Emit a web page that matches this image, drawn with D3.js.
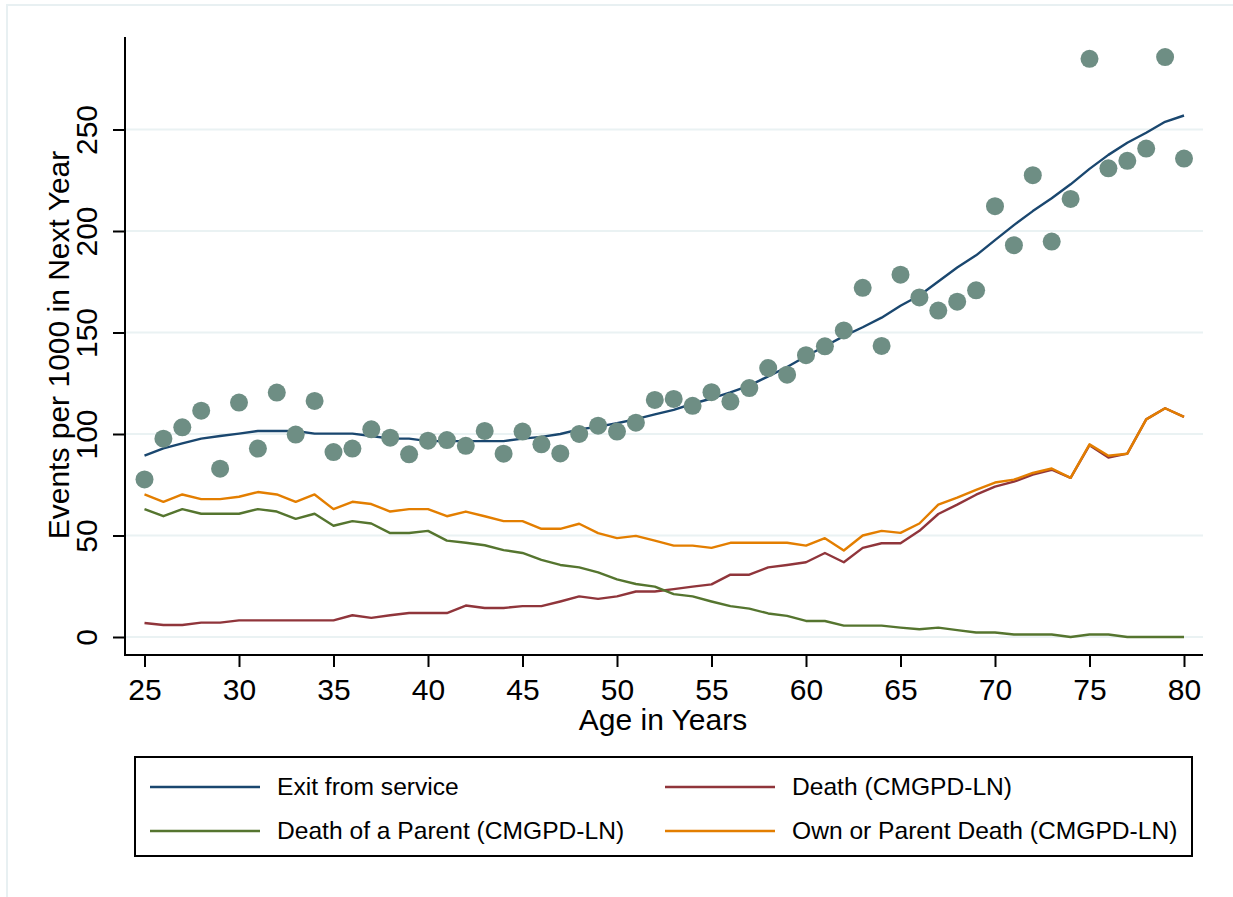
<!DOCTYPE html>
<html>
<head>
<meta charset="utf-8">
<script src="https://cdn.jsdelivr.net/npm/d3@7"></script>
<style>
  body { margin: 0; background: #fff; }
  svg { display: block; font-family: "Liberation Sans", Arial, sans-serif; }
</style>
</head>
<body>
<div id="main"></div>
<script>
// ages on the x axis
var ages = [25,26,27,28,29,30,31,32,33,34,35,36,37,38,39,40,41,42,43,44,45,46,47,48,49,50,51,52,
            53,54,55,56,57,58,59,60,61,62,63,64,65,66,67,68,69,70,71,72,73,74,75,76,77,78,79,80];

// observed exit rate (dots)
var exitObserved = [77.6,97.7,103.3,111.5,82.9,115.5,92.8,120.4,99.7,116.3,91.1,92.8,102.3,98.2,90,96.7,
                    97,94.2,101.5,90.3,101.2,94.9,90.4,100,104.1,101.2,105.6,116.8,117.3,113.9,120.6,116,
                    122.6,132.5,129.2,138.8,143.2,151,172,143.4,178.5,167.3,160.8,165.2,170.8,212.2,193,
                    227.5,194.8,215.8,284.8,230.9,234.6,240.6,285.7,235.7];

// smoothed exit from service
var exitSmooth = [89.3,92.9,95.4,97.7,99,100.2,101.5,101.5,101.5,100.2,100.2,100.2,99,97.7,97.7,96.5,
                  96.5,96.5,96.5,96.5,97.7,98.6,100,102.3,103.6,105.3,107.3,109.7,111.9,114.9,117.5,120.5,
                  123.8,128.4,133,138.3,143.2,148.2,152.6,157.3,163.2,168.2,175.1,182,188,195.5,202.9,
                  209.8,216.1,223,230.6,237.5,243.5,248.4,253.8,256.9];

var deathOwn = [6.9,5.9,5.9,7.1,7.1,8.2,8.2,8.2,8.2,8.2,8.2,10.7,9.4,10.7,11.8,11.8,11.8,15.5,14.3,14.3,
                15.2,15.2,17.5,20,18.8,20,22.4,22.4,23.6,24.8,25.9,30.7,30.7,34.3,35.5,36.8,41.4,36.8,
                43.9,46.2,46.2,52.3,60.6,65.2,70.1,74.1,76.5,80,82.4,78.4,94.5,88.4,90.3,107.2,112.7,108.4];

var deathParent = [63,59.5,63,60.7,60.7,60.7,63,61.8,58.2,60.7,54.8,57.1,55.9,51.2,51.2,52.3,47.5,46.4,
                   45.2,42.8,41.4,38,35.5,34.3,31.8,28.4,26.1,24.8,21.1,20,17.5,15.2,14,11.6,10.4,7.9,7.9,
                   5.6,5.6,5.6,4.6,3.8,4.6,3.4,2.2,2.2,1.2,1.2,1.2,0,1.2,1.2,0,0,0,0];

var deathOwnOrParent = [70.2,66.6,70.2,67.9,67.9,69.1,71.4,70.2,66.6,70.2,63,66.6,65.5,61.8,63,63,59.5,
                        61.8,59.5,57.1,57.1,53.3,53.3,55.8,51.2,48.7,49.8,47.5,45,45,43.9,46.4,46.4,46.4,
                        46.4,45,48.7,42.6,50,52.3,51.3,55.9,65.2,68.7,72.5,76.1,77.5,80.8,83,78.4,94.9,
                        89.3,90.3,107.2,112.7,108.4];

var xTicks = [25,30,35,40,45,50,55,60,65,70,75,80];
var yTicks = [0,50,100,150,200,250];

var seriesNames = ["Exit from service","Death (CMGPD-LN)","Death of a Parent (CMGPD-LN)","Own or Parent Death (CMGPD-LN)"];
var seriesColors = ["#1a476f","#90353b","#55752f","#e37e00"];

var W = 1233, H = 897;
var svg = d3.select("#main").append("svg").attr("width", W).attr("height", H);

// outer graph region border
svg.append("rect").attr("x", 7).attr("y", 5).attr("width", 1260).attr("height", 920)
    .attr("fill", "none").attr("stroke", "#e8f0f2").attr("stroke-width", 2);

var x = d3.scaleLinear().domain([25, 80]).range([144.5, 1184]);
var y = d3.scaleLinear().domain([0, 250]).range([637, 129.5]);
var plotLeft = 125, plotRight = 1203, plotTop = 37, plotBottom = 655;

// grid
svg.append("g").selectAll("line").data(yTicks).enter().append("line")
    .attr("x1", plotLeft).attr("x2", plotRight)
    .attr("y1", function(d){ return y(d); }).attr("y2", function(d){ return y(d); })
    .attr("stroke", "#eaf2f3").attr("stroke-width", 2);

// data lines
var lineGen = function(vals){
    return d3.line()
        .x(function(d,i){ return x(ages[i]); })
        .y(function(d){ return y(d); })(vals);
};
var lineData = [exitSmooth, deathOwn, deathParent, deathOwnOrParent];
var lines = svg.append("g");
lineData.forEach(function(vals, k){
    lines.append("path").attr("d", lineGen(vals))
        .attr("fill", "none").attr("stroke", seriesColors[k])
        .attr("stroke-width", 2.4).attr("stroke-linejoin", "round");
});

// observed dots
svg.append("g").selectAll("circle").data(exitObserved).enter().append("circle")
    .attr("cx", function(d,i){ return x(ages[i]); })
    .attr("cy", function(d){ return y(d); })
    .attr("r", 9).attr("fill", "#6e8e84");

// axes
var yAxis = svg.append("g").attr("transform", "translate(" + plotLeft + ",0)")
    .call(d3.axisLeft(y).tickValues(yTicks).tickSize(12).tickPadding(16).tickSizeOuter(0));
yAxis.select(".domain").remove();
yAxis.append("line").attr("x1", 0).attr("x2", 0).attr("y1", plotTop).attr("y2", plotBottom + 1)
    .attr("stroke", "#000").attr("stroke-width", 2);
yAxis.selectAll(".tick line").attr("stroke", "#000").attr("stroke-width", 2);
yAxis.selectAll(".tick text")
    .attr("font-size", 30).attr("fill", "#000")
    .attr("x", 0).attr("dy", 0)
    .attr("text-anchor", "middle")
    .attr("transform", "translate(-28,0) rotate(-90)");

var xAxis = svg.append("g").attr("transform", "translate(0," + plotBottom + ")")
    .call(d3.axisBottom(x).tickValues(xTicks).tickSize(12).tickPadding(10).tickSizeOuter(0));
xAxis.select(".domain").remove();
xAxis.append("line").attr("x1", plotLeft - 1).attr("x2", plotRight).attr("y1", 0).attr("y2", 0)
    .attr("stroke", "#000").attr("stroke-width", 2);
xAxis.selectAll(".tick line").attr("stroke", "#000").attr("stroke-width", 2);
xAxis.selectAll(".tick text").attr("font-size", 30).attr("fill", "#000")
    .attr("dy", 0).attr("y", 45);

// axis titles
svg.append("text").attr("x", 663).attr("y", 730).attr("text-anchor", "middle")
    .attr("font-size", 30).text("Age in Years");
svg.append("text").attr("transform", "translate(69,345) rotate(-90)").attr("text-anchor", "middle")
    .attr("font-size", 30).text("Events per 1000 in Next Year");

// legend
var legend = svg.append("g");
legend.append("rect").attr("x", 135).attr("y", 757).attr("width", 1057).attr("height", 99)
    .attr("fill", "#fff").attr("stroke", "#000").attr("stroke-width", 2);
var legPos = [[150, 787], [665, 787], [150, 831], [665, 831]];
seriesNames.forEach(function(name, k){
    var p = legPos[k];
    legend.append("line").attr("x1", p[0]).attr("x2", p[0] + 110)
        .attr("y1", p[1]).attr("y2", p[1])
        .attr("stroke", seriesColors[k]).attr("stroke-width", 2.4);
    legend.append("text").attr("x", p[0] + 127).attr("y", p[1] + 8)
        .attr("font-size", 24.6).text(name);
});
</script>
</body>
</html>
